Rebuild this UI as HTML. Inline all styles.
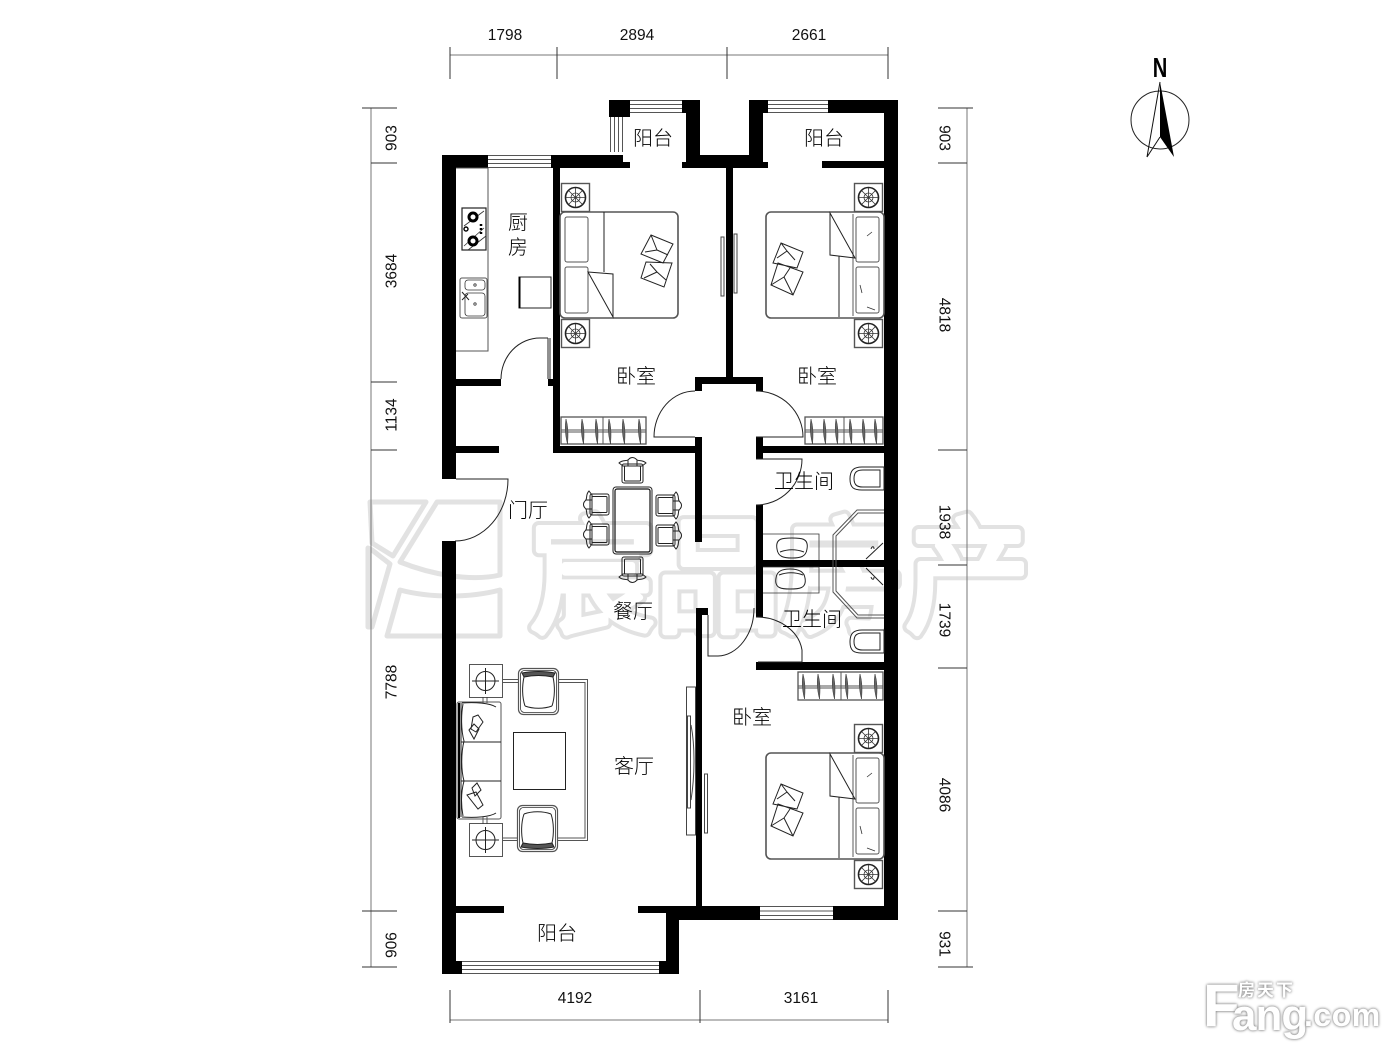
<!DOCTYPE html>
<html lang="zh"><head><meta charset="utf-8"><title>户型图</title>
<style>
html,body{margin:0;padding:0;background:#fff;width:1400px;height:1050px;overflow:hidden}
#c{position:relative;width:1400px;height:1050px}
svg{position:absolute;left:0;top:0}
.l{fill:none;stroke:#222;stroke-width:1}
.t{fill:none;stroke:#333;stroke-width:.8}
.g{fill:none;stroke:#555;stroke-width:1}
.lab{font-family:"Liberation Sans","Noto Sans CJK SC",sans-serif;font-size:20px;font-weight:300;fill:#000;text-anchor:middle}
.dim{font-family:"Liberation Sans",sans-serif;font-size:15.5px;fill:#111;text-anchor:middle}
.f{position:absolute;color:#fff;font-family:"Liberation Sans","Noto Sans CJK SC",sans-serif;font-weight:bold;text-shadow:0 0 3px #888,0 0 2px #999;line-height:1;white-space:nowrap}
</style></head><body><div id="c">
<svg width="1400" height="1050" viewBox="0 0 1400 1050" xmlns="http://www.w3.org/2000/svg">
<defs>
<g id="ns"><rect class="g" x="0.5" y="0.5" width="28" height="28" style="stroke-width:1.4"/><circle class="l" cx="14.5" cy="14.5" r="10" style="stroke-width:1.6"/><circle class="t" cx="14.5" cy="14.5" r="4.5"/><path class="t" d="M14.5 5V24M5 14.5H24M8 8L21 21M21 8L8 21"/></g>
<g id="bedR">
<rect class="g" x="766" y="212" width="118" height="106" rx="5" style="stroke-width:1.6"/>
<rect class="g" x="856" y="217" width="23" height="45" rx="2"/><rect class="g" x="856" y="267" width="23" height="46" rx="2"/>
<path class="t" d="M853 214V316M872 232l-5 4M860 285l2 8M875 310l-8-3"/>
<path class="l" d="M839 256V317M830 213V255L855 258ZM830 213L855 258"/>
<path class="l" d="M781 243L803 252L797 268L773 263ZM787 251L781 243M787 251L795 260M787 251L777 258M778 263L803 272L793 295L771 285ZM784 277L790 268M784 277L793 295M784 277L771 285"/>
<use href="#ns" x="854" y="183"/><use href="#ns" x="854" y="319"/>
</g>
<g id="hang"><path d="M0 0C2 7 2.500 15 1.500 25C-.5 18 -1.500 8 0 0Z" fill="#666" stroke="#333" stroke-width=".5"/></g>
<g id="ch"><rect class="l" x="1" y="5" width="21" height="19" rx="2"/><rect class="l" x="3.500" y="7" width="16" height="15" rx="1"/><path class="l" d="M-2 4C2 0 6 3 8 0C10 -2 13 -2 15 0C17 3 21 0 25 4L21 7H2ZM7 1V7M16 1V7"/></g>
<g id="arm"><rect class="g" x="0.5" y="0.5" width="40" height="46" rx="5" style="stroke-width:1.2"/><rect class="t" x="2.5" y="2.5" width="36" height="42" rx="4"/><path class="l" d="M4 5C14 3 27 3 37 5L35 9C25 7 16 7 6 9Z" style="fill:#555"/><path class="l" d="M6 9C4 18 4 29 7 38M35 9C37 18 37 29 34 38M7 38C15 41 26 41 34 38"/></g>
<g id="tb"><rect class="g" x="0.5" y="0.5" width="33" height="33"/><circle class="l" cx="16.5" cy="17" r="9.5"/><path class="l" d="M16.5 4V30M3 17H30"/></g>
<g id="wc"><path class="l" d="M34 0H12C4 0 0 3 0 12C0 21 4 23 12 23H34Z" style="fill:#fff"/><path class="l" d="M30 3H13C7 3 4 5 4 11.500C4 18 7 20 13 20H30Z"/></g>
</defs>

<!-- big watermark (under the plan) -->
<g font-family="'Liberation Sans','Noto Sans CJK SC',sans-serif" font-size="125">
<text x="530" y="622" fill="#e2e2e2" stroke="#e2e2e2" stroke-width="14" stroke-linejoin="round">宸品房产</text>
<text x="530" y="622" fill="#fff" stroke="#fff" stroke-width="6" stroke-linejoin="round">宸品房产</text>
</g>
<g fill="#fff" stroke="#e2e2e2" stroke-width="5" stroke-linejoin="round">
<path d="M370 502H426L393 556L372 543ZM372 550L390 564L372 627H368V548Z"/>
<path d="M437 502H500V575C470 582 430 574 400 562Z"/>
<path d="M400 590C430 598 470 598 500 590V636H387Z"/>
</g>

<!-- dimensions -->
<g class="g" style="stroke:#777">
<path d="M450 55H888M371 108V967M967 108V967M450 1020H888"/>
<path style="stroke:#333" d="M450 47V79M557 47V79M727 47V79M888 47V79M450 990V1023M700 990V1023M888 990V1023M362 108H397M371 163H397M371 382H397M371 450H397M362 911H397M362 967H397M938 108H973M938 163H967M938 450H967M938 565H967M938 668H967M938 911H967M938 967H973"/>
</g>
<g class="dim">
<text x="505" y="40">1798</text><text x="637" y="40">2894</text><text x="809" y="40">2661</text>
<text x="575" y="1003">4192</text><text x="801" y="1003">3161</text>
<text transform="translate(396.500 138) rotate(-90)">903</text>
<text transform="translate(396.500 271) rotate(-90)">3684</text>
<text transform="translate(396.500 415) rotate(-90)">1134</text>
<text transform="translate(396.500 682) rotate(-90)">7788</text>
<text transform="translate(396.500 945) rotate(-90)">906</text>
<text transform="translate(939.500 138) rotate(90)">903</text>
<text transform="translate(939.500 315) rotate(90)">4818</text>
<text transform="translate(939.500 522) rotate(90)">1938</text>
<text transform="translate(939.500 620) rotate(90)">1739</text>
<text transform="translate(939.500 795) rotate(90)">4086</text>
<text transform="translate(939.500 944) rotate(90)">931</text>
</g>

<!-- walls -->
<g fill="#000">
<rect x="442" y="155" width="14" height="324"/><rect x="442" y="541" width="14" height="433"/>
<rect x="442" y="155" width="46" height="13"/>
<rect x="551" y="155" width="72" height="13"/><rect x="623" y="162" width="7" height="6"/>
<rect x="553" y="155" width="7" height="298"/>
<rect x="609" y="100" width="21" height="17"/><rect x="682" y="100" width="18" height="13"/>
<rect x="686" y="100" width="14" height="68"/><rect x="682" y="162" width="18" height="6"/>
<rect x="700" y="155" width="49" height="13"/>
<rect x="749" y="100" width="14" height="68"/><rect x="749" y="100" width="19" height="13"/><rect x="763" y="162" width="5" height="6"/>
<rect x="828" y="100" width="70" height="13"/><rect x="884" y="100" width="14" height="820"/>
<rect x="822" y="161" width="62" height="7"/>
<rect x="726" y="168" width="7" height="210"/>
<rect x="695" y="377" width="68" height="7"/><rect x="695" y="377" width="7" height="14"/><rect x="756" y="377" width="7" height="14"/>
<rect x="456" y="379" width="45" height="7"/><rect x="548" y="379" width="5" height="7"/>
<rect x="456" y="446" width="43" height="7"/>
<rect x="553" y="446" width="149" height="7"/><rect x="695" y="437" width="7" height="105"/>
<rect x="756" y="437" width="7" height="22"/><rect x="756" y="446" width="128" height="7"/>
<rect x="756" y="505" width="7" height="112"/><rect x="763" y="560" width="121" height="7"/>
<rect x="756" y="662" width="128" height="8"/>
<rect x="696" y="608" width="12" height="7"/><rect x="696" y="608" width="6" height="298"/>
<rect x="456" y="906" width="48" height="7"/><rect x="638" y="906" width="64" height="7"/>
<rect x="666" y="906" width="94" height="14"/><rect x="833" y="906" width="65" height="14"/>
<rect x="666" y="906" width="13" height="68"/><rect x="659" y="961" width="20" height="13"/>
<rect x="442" y="961" width="20" height="13"/>
</g>

<!-- windows -->
<g class="g" style="stroke:#555">
<path d="M488 155.500H551M488 159.500H551M488 163.500H551M488 167.500H551"/>
<path d="M630 100.500H682M630 104.500H682M630 108.500H682M630 112.500H682"/>
<path d="M768 100.500H828M768 104.500H828M768 108.500H828M768 112.500H828"/>
<path d="M610.500 117V152M614.500 117V152M618.500 117V152M622.500 117V152"/>
<path d="M760 906.500H833M760 911H833M760 915.500H833M760 919.500H833"/>
<path d="M462 961.500H659M462 965.500H659M462 969.500H659M462 973.500H659"/>
</g>

<!-- doors -->
<g class="l">
<path d="M548 338V379M550 338V379M548 338H540A39 41 0 0 0 501 379"/>
<path d="M695 391A41 46 0 0 0 654 437H695M756 391A47 46 0 0 1 803 437H756"/>
<path d="M456 479H508A53 62 0 0 1 455 541"/>
<path d="M756 459H802A46 46 0 0 1 756 505"/>
<path d="M756 617A46 38 0 0 1 802 650V662H758M708 615V656H718A37 48 0 0 0 754 608"/>
</g>

<!-- bedroom 1 -->
<rect class="g" x="560" y="212" width="118" height="106" rx="5" style="stroke-width:1.6"/>
<rect class="g" x="565" y="217" width="23" height="45" rx="2"/><rect class="g" x="565" y="267" width="23" height="46" rx="2"/>
<path class="l" d="M604 212V272M588 272L613 274V317ZM588 272L613 317"/>
<path class="l" d="M651 235L673 244L663 263L641 254ZM657 250L651 235M657 250L668 255M657 250L645 252M646 262L672 263L664 287L641 278ZM657 272L650 264M657 272L666 280M657 272L644 278"/>
<use href="#ns" x="561" y="183"/><use href="#ns" x="561" y="319"/>
<!-- bedroom 2, 3 -->
<use href="#bedR"/><use href="#bedR" y="541"/>
<!-- sliding -->
<g class="g" style="stroke:#444">
<rect x="721" y="237" width="3" height="59"/><rect x="734" y="234" width="3" height="59"/>
<rect x="704.500" y="774" width="3" height="59"/>
<rect x="686.500" y="687" width="9" height="148"/><rect x="687.500" y="716" width="3" height="92"/>
<path d="M691 725C695 745 695 775 691 800"/>
</g>
<!-- wardrobes -->
<g class="g">
<rect x="561" y="417" width="85" height="27" style="stroke-width:1.3"/><path d="M561 430H646M561 432H646M603 417V444"/>
<rect x="805" y="417" width="78" height="27" style="stroke-width:1.3"/><path d="M805 430H883M805 432H883M844 417V444"/>
<rect x="798" y="672" width="85" height="28" style="stroke-width:1.3"/><path d="M798 686H883M798 688H883M841 672V700"/>
</g>
<use href="#hang" x="566" y="419"/><use href="#hang" x="582" y="419"/><use href="#hang" x="596" y="419"/><use href="#hang" x="609" y="419"/><use href="#hang" x="623" y="419"/><use href="#hang" x="639" y="419"/>
<use href="#hang" x="811" y="419"/><use href="#hang" x="824" y="419"/><use href="#hang" x="836" y="419"/><use href="#hang" x="850" y="419"/><use href="#hang" x="863" y="419"/><use href="#hang" x="875" y="419"/>
<use href="#hang" x="803" y="674"/><use href="#hang" x="818" y="674"/><use href="#hang" x="833" y="674"/><use href="#hang" x="846" y="674"/><use href="#hang" x="860" y="674"/><use href="#hang" x="875" y="674"/>

<!-- kitchen -->
<path class="g" d="M456 168H488V351H456"/>
<rect class="l" x="462" y="208" width="24" height="42" style="stroke-width:1.2"/>
<path class="t" d="M464 226L484 211M464 246L484 228M468 250L486 236"/>
<circle cx="473" cy="217" r="4" fill="#fff" stroke="#000" stroke-width="3"/><circle cx="473" cy="241" r="4" fill="#fff" stroke="#000" stroke-width="3"/>
<circle cx="466" cy="229" r="2" fill="#fff" stroke="#000" stroke-width="1.400"/>
<path d="M481 224v2M481 228v2M481 232v2" stroke="#000" stroke-width="2.500" fill="none"/>
<rect class="g" x="460" y="278" width="27" height="40" rx="2"/><rect class="t" x="465" y="280" width="20" height="10" rx="3"/><rect class="t" x="465" y="293" width="20" height="23" rx="3"/>
<circle class="t" cx="475" cy="285" r="1.200"/><circle class="t" cx="475" cy="304" r="1.200"/><path class="l" d="M462 292L469 300M462 300L468 294"/>
<rect class="l" x="519" y="277" width="32" height="31"/><path d="M519.500 277V308" stroke="#000" stroke-width="2"/>

<!-- dining -->
<rect class="l" x="613" y="487" width="39" height="67" rx="3"/><rect x="615" y="489" width="35" height="63" rx="2" fill="none" stroke="#111" stroke-width="1.200"/>
<use href="#ch" x="621" y="459"/>
<use href="#ch" transform="translate(644 581) rotate(180)"/>
<use href="#ch" transform="translate(585 516) rotate(-90)"/>
<use href="#ch" transform="translate(585 546) rotate(-90)"/>
<use href="#ch" transform="translate(680 494) rotate(90)"/>
<use href="#ch" transform="translate(680 524) rotate(90)"/>

<!-- living -->
<path class="g" d="M502 679.500H518M558 679.500H587.500V840.500H558M518 840.500H502M502 682.500H518M558 682.500H585V838H558M518 838H502"/>
<use href="#tb" x="469" y="664"/><use href="#tb" x="469" y="823"/>
<path class="t" d="M483 697V703M487 697V703M483 817V824M487 817V824"/>
<rect class="g" x="457" y="702" width="44" height="117" rx="2"/>
<path class="l" d="M461 703V817M463 704C461 715 461 730 464 741C461 753 461 770 464 781C461 792 461 805 463 816M461 742H501M461 781H501M462 703C475 702 490 703 496 707M462 817C475 818 490 817 496 813"/>
<path d="M459 703V818" stroke="#000" stroke-width="2" fill="none"/>
<path class="l" d="M473 717L478 715L483 722L476 732L471 729ZM469 730L474 724L479 729L474 739ZM472 788L477 783L481 790L475 796ZM467 795L476 792L483 805L478 809Z"/>
<use href="#arm" x="518" y="668"/>
<use href="#arm" transform="translate(558 852) rotate(180)"/>
<rect class="l" x="513.500" y="732.500" width="52" height="57"/>

<!-- bathrooms -->
<use href="#wc" x="850" y="467"/><use href="#wc" x="850" y="630"/>
<path class="t" d="M763 534H819V560M763 567H819V593H763"/>
<path class="l" d="M777 549C775 538 783 538 792 538C801 538 809 538 807 549C806 557 800 558 792 558C784 558 778 557 777 549ZM780 552C788 549 796 549 804 552M776 578C774 589 783 589 790 589C798 589 807 589 805 578C804 571 798 569 790 569C782 569 777 571 776 578ZM779 575C787 572 795 572 803 575"/>
<path class="g" d="M884 510H857L833 535V592L857 618H884M884 513H858L836 536V591L858 615H884"/>
<path class="l" d="M866 559L883 543M866 568L883 585M871 549c1-3 3-3 3 0M871 577c1 3 3 3 3 0"/>

<!-- north -->
<circle cx="1160" cy="120" r="29" fill="none" stroke="#222" stroke-width="1"/>
<path d="M1160 82L1174 157L1160 137Z" fill="#000"/>
<path d="M1160 82L1147 157L1160 137" fill="none" stroke="#111" stroke-width="1"/>
<text x="1160" y="77" transform="translate(1160 0) scale(.72 1) translate(-1160 0)" text-anchor="middle" font-family="'Liberation Sans',sans-serif" font-weight="bold" font-size="28" fill="#000">N</text>

<!-- labels -->
<text class="lab" x="653" y="145">阳台</text><text class="lab" x="824" y="145">阳台</text>
<text class="lab" x="518" y="229">厨</text><text class="lab" x="518" y="254">房</text>
<text class="lab" x="636" y="383">卧室</text><text class="lab" x="817" y="383">卧室</text>
<text class="lab" x="804" y="488">卫生间</text><text class="lab" x="528" y="517">门厅</text>
<text class="lab" x="633" y="618">餐厅</text><text class="lab" x="812" y="626">卫生间</text>
<text class="lab" x="752" y="724">卧室</text><text class="lab" x="634" y="773">客厅</text>
<text class="lab" x="557" y="940">阳台</text>
</svg>
<div class="f" style="left:1203px;top:976px;font-size:60px;letter-spacing:-1px">F</div>
<div class="f" style="left:1232px;top:994px;font-size:44px;letter-spacing:-1px">ang</div>
<div class="f" style="left:1304px;top:999px;font-size:32px;letter-spacing:.5px">.com</div>
<div class="f" style="left:1238px;top:982px;font-size:17px;letter-spacing:2px">房天下</div>
</div></body></html>
